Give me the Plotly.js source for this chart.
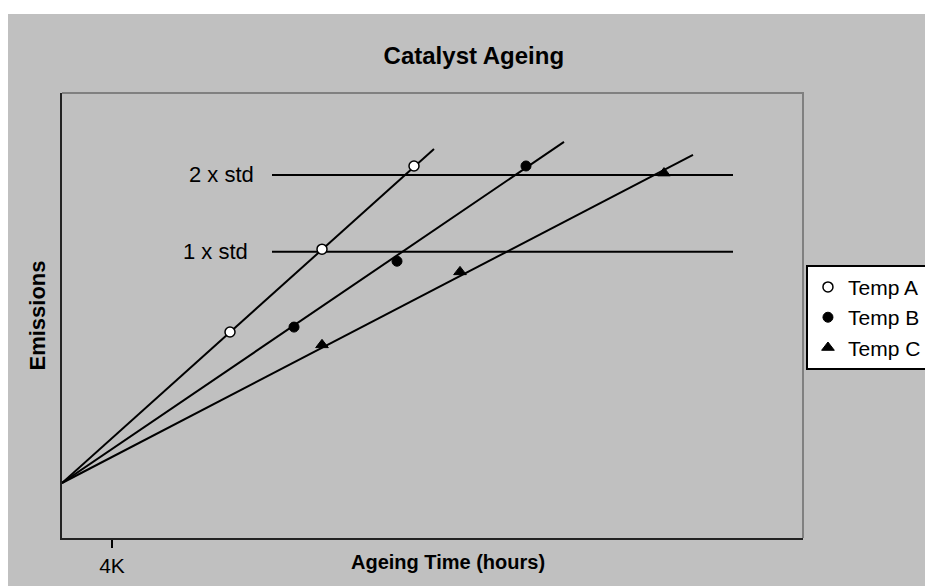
<!DOCTYPE html>
<html>
<head>
<meta charset="utf-8">
<script src="https://cdn.plot.ly/plotly-3.0.1.min.js"></script>
<style>
  html, body { margin: 0; padding: 0; background: #ffffff; width: 925px; height: 586px; overflow: hidden; }
  #chart { position: absolute; left: 8px; top: 14px; width: 917px; height: 572px; }
</style>
</head>
<body>
<div id="chart"></div>
<script>
// Ageing time in thousand hours (x), emissions in arbitrary units (y)
const tempA_x = [13.44, 20.8, 28.16];
const tempA_y = [46.3, 64.9, 83.6];
const tempB_x = [18.56, 26.8, 37.12];
const tempB_y = [47.4, 62.2, 83.6];
const tempC_x = [20.8, 31.84, 48.16];
const tempC_y = [43.4, 59.8, 82.0];

// Trend lines (start point shared, end point per series)
const lineA_x = [0, 29.76];
const lineA_y = [12.36, 87.4];
const lineB_x = [0, 40.16];
const lineB_y = [12.36, 89.0];
const lineC_x = [0, 50.48];
const lineC_y = [12.36, 86.1];

// Standard limits
const stdLabels = ['2 x std', '1 x std'];
const stdLevels = [81.6, 64.3];
const stdX = [16.8, 53.68];
const stdLabelX = [15.5, 15.0];

const tickVals = [4];
const tickText = ['4K'];

const FONT = 'Arial, "Liberation Sans", Helvetica, sans-serif';

const lineStyle = {color: '#000000', width: 2};
const traces = [];
[[lineA_x, lineA_y], [lineB_x, lineB_y], [lineC_x, lineC_y]].forEach(function (l) {
  traces.push({x: l[0], y: l[1], mode: 'lines', line: lineStyle, showlegend: false, hoverinfo: 'skip'});
});
stdLevels.forEach(function (lv) {
  traces.push({x: stdX, y: [lv, lv], mode: 'lines', line: lineStyle, showlegend: false, hoverinfo: 'skip'});
});
traces.push({x: tempA_x, y: tempA_y, mode: 'markers', name: 'Temp A',
  marker: {symbol: 'circle', size: 10, color: '#ffffff', line: {color: '#000000', width: 1.5}}});
traces.push({x: tempB_x, y: tempB_y, mode: 'markers', name: 'Temp B',
  marker: {symbol: 'circle', size: 10, color: '#000000', line: {color: '#000000', width: 1}}});
traces.push({x: tempC_x, y: tempC_y, mode: 'markers', name: 'Temp C',
  marker: {symbol: 'triangle-up', size: 11, color: '#000000', line: {color: '#000000', width: 1}}});

const annotations = stdLabels.map(function (t, i) {
  return {x: stdLabelX[i], y: stdLevels[i], xref: 'x', yref: 'y', text: t, showarrow: false,
    xanchor: 'right', yanchor: 'middle', font: {family: FONT, size: 22, color: '#000000'}};
});
// x-axis title (placed as in the reference, slightly right of centre and close to the axis)
annotations.push({x: 0.5205, y: -0.055, xref: 'paper', yref: 'paper', text: '<b>Ageing Time (hours)</b>',
  showarrow: false, xanchor: 'center', yanchor: 'middle', font: {family: FONT, size: 20, color: '#000000'}});

const layout = {
  width: 917, height: 572,
  paper_bgcolor: '#c0c0c0', plot_bgcolor: '#c0c0c0',
  margin: {l: 54, r: 122, t: 79, b: 48, autoexpand: false},
  font: {family: FONT, color: '#000000'},
  title: {text: '<b>Catalyst Ageing</b>', x: 0.508, xref: 'container', xanchor: 'center',
    y: 0.928, yref: 'container', yanchor: 'middle', font: {family: FONT, size: 24, color: '#000000'}},
  xaxis: {range: [0, 59.28], tickvals: tickVals, ticktext: tickText, ticks: 'outside', ticklen: 8,
    tickwidth: 2, tickcolor: '#000000', tickfont: {family: FONT, size: 21, color: '#000000'},
    showline: true, linecolor: '#222222', linewidth: 2, showgrid: false, zeroline: false, fixedrange: true},
  yaxis: {range: [0, 100], showticklabels: false, ticks: '', showline: true, linecolor: '#222222',
    linewidth: 2, showgrid: false, zeroline: false, fixedrange: true,
    title: {text: '<b>Emissions</b>', standoff: 8, font: {family: FONT, size: 22, color: '#000000'}}},
  showlegend: true,
  legend: {x: 1.004, xanchor: 'left', y: 0.614, yanchor: 'top', bgcolor: '#ffffff',
    bordercolor: '#000000', borderwidth: 2, font: {family: FONT, size: 21, color: '#000000'},
    itemwidth: 30, tracegroupgap: 0},
  shapes: [
    {type: 'path', xref: 'paper', yref: 'paper', path: 'M 0 1 L 1 1 L 1 0', line: {color: '#808080', width: 2}}
  ],
  annotations: annotations
};

Plotly.newPlot('chart', traces, layout, {displayModeBar: false, staticPlot: true});
</script>
</body>
</html>
